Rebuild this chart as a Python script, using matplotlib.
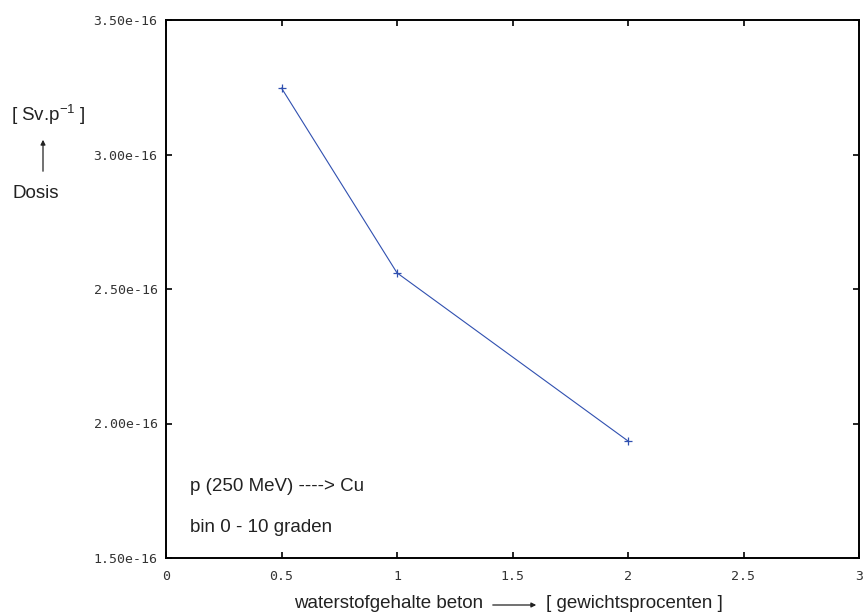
import matplotlib
matplotlib.use("Agg")
import matplotlib.pyplot as plt

# waterstofgehalte beton [gewichtsprocenten] vs dosis [Sv/p]
waterstof = [0.5, 1.0, 2.0]
dosis = [3.247e-16, 2.56e-16, 1.935e-16]

xticks = [0, 0.5, 1, 1.5, 2, 2.5, 3]
xticklabels = ["0", "0.5", "1", "1.5", "2", "2.5", "3"]
yticks = [1.5e-16, 2.0e-16, 2.5e-16, 3.0e-16, 3.5e-16]
yticklabels = ["1.50e-16", "2.00e-16", "2.50e-16", "3.00e-16", "3.50e-16"]

plt.rcParams["mathtext.fontset"] = "custom"
plt.rcParams["mathtext.rm"] = "Liberation Sans"
plt.rcParams["mathtext.it"] = "Liberation Sans"

W, H = 866, 614
fig = plt.figure(figsize=(W / 100, H / 100), dpi=100)
ax = fig.add_axes([166 / W, 1 - 558 / H, 693 / W, 538 / H])

ax.plot(waterstof, dosis, color="#3050b0", linewidth=0.8,
        marker="+", markersize=6, markeredgewidth=0.9)

ax.set_xlim(0, 3)
ax.set_ylim(1.5e-16, 3.5e-16)
ax.set_xticks(xticks)
ax.set_xticklabels(xticklabels)
ax.set_yticks(yticks)
ax.set_yticklabels(yticklabels)
ax.tick_params(direction="in", length=4, width=1.2, top=True, right=True,
               labelsize=9.5, colors="black")
ax.tick_params(axis="x", pad=9)
ax.tick_params(axis="y", pad=6)
for lab in ax.get_xticklabels() + ax.get_yticklabels():
    lab.set_family("DejaVu Sans Mono")
    lab.set_color("#333333")
for s in ax.spines.values():
    s.set_linewidth(1.4)

txt = dict(family="Liberation Sans", fontsize=13.5, color="#222222")

# annotations inside plot
ax.text(0.104, 1.765e-16, "p (250 MeV) ----> Cu", va="center", **txt)
ax.text(0.104, 1.615e-16, "bin 0 - 10 graden", va="center", **txt)

# y label block
fig.text(48 / W, 1 - 115 / H, r"[ Sv.p$^{-1}$ ]", ha="center", va="center", **txt)
fig.text(36 / W, 1 - 194 / H, "Dosis", ha="center", va="center", **txt)
fig.add_artist(matplotlib.patches.FancyArrowPatch(
    (43 / W, 1 - 174 / H), (43 / W, 1 - 137 / H), transform=fig.transFigure,
    arrowstyle="-|>", mutation_scale=7, linewidth=0.9, color="#222222"))

# x label block
fig.text(483 / W, 1 - 604 / H, "waterstofgehalte beton", ha="right", va="center", **txt)
fig.text(546 / W, 1 - 604 / H, "[ gewichtsprocenten ]", ha="left", va="center", **txt)
fig.add_artist(matplotlib.patches.FancyArrowPatch(
    (490 / W, 1 - 605 / H), (539 / W, 1 - 605 / H), transform=fig.transFigure,
    arrowstyle="-|>", mutation_scale=7, linewidth=0.9, color="#222222"))

fig.savefig("out.png", dpi=100)
